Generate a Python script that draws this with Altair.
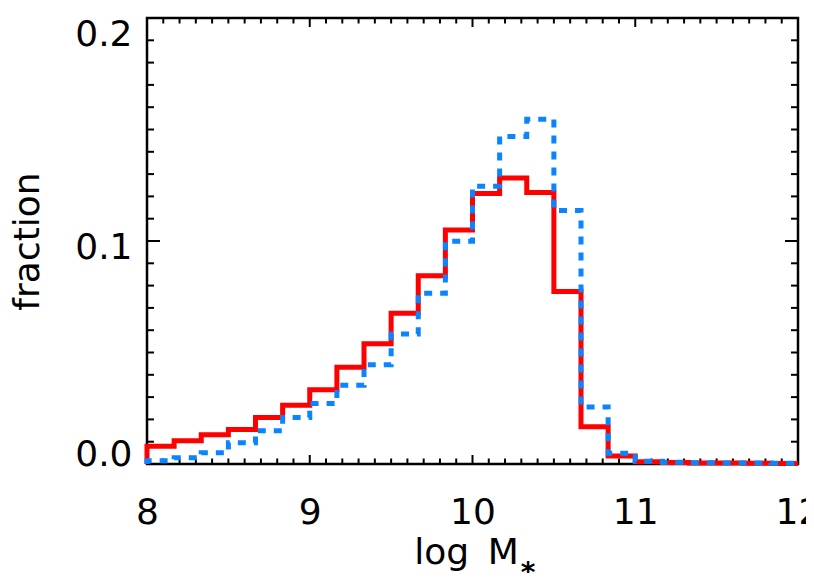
import altair as alt
import pandas as pd

# Histogram binning: 24 bins of width 1/6 from 8 to 12
BIN_START = 8.0
BIN_COUNT = 24
BIN_WIDTH = 1.0 / 6.0

# fraction per bin
red_vals = [0.0080, 0.0104, 0.0131, 0.0155, 0.0208, 0.0263, 0.0333, 0.0434,
            0.0539, 0.0676, 0.0844, 0.1049, 0.1213, 0.1283, 0.1217, 0.0774,
            0.0167, 0.0036, 0.0010, 0.0007, 0.0005, 0.0004, 0.0003, 0.0002]
blue_vals = [0.0015, 0.0028, 0.0050, 0.0095, 0.0149, 0.0208, 0.0271, 0.0353,
             0.0445, 0.0583, 0.0766, 0.0999, 0.1246, 0.1469, 0.1546, 0.1137,
             0.0256, 0.0048, 0.0012, 0.0008, 0.0006, 0.0005, 0.0004, 0.0003]

x_labels = [8, 9, 10, 11, 12]
y_labels = [0.0, 0.1, 0.2]
x_major = [8, 9, 10, 11, 12]
x_minor = [round(8 + 0.1 * i, 1) for i in range(41) if i % 10 != 0]
y_major = [0.0, 0.1, 0.2]
y_minor = [round(0.01 * i, 2) for i in range(21) if i % 10 != 0]

x_title = "log\u2009 M"
x_title_sub = ["*"]
y_title = "fraction"

edges = [BIN_START + i * BIN_WIDTH for i in range(BIN_COUNT + 1)]


def steps(vals, name):
    rows = [{"x": edges[0], "y": 0.0, "o": 0, "s": name}]
    for i, v in enumerate(vals):
        rows.append({"x": edges[i], "y": v, "o": 2 * i + 1, "s": name})
        rows.append({"x": edges[i + 1], "y": v, "o": 2 * i + 2, "s": name})
    return pd.DataFrame(rows)


red_df = steps(red_vals, "red")
blue_df = steps(blue_vals, "blue")

W, H = 651, 446
FONT = "DejaVu Sans"

xscale = alt.Scale(domain=[8, 12], nice=False, zero=False)
yscale = alt.Scale(domain=[0, 0.2], nice=False, zero=False)

xaxis = alt.Axis(values=x_labels, format="d", domain=False, ticks=False, grid=False,
                 labelFlush=False, labelFont=FONT, labelFontSize=36, labelColor="black",
                 labelPadding=31, title=x_title, titleFont=FONT, titleFontSize=36,
                 titleFontWeight="normal", titleColor="black", titleY=99, titleX=319,
                 titleAlign="center", titleBaseline="alphabetic")
yaxis = alt.Axis(values=y_labels, format=".1f", domain=False, ticks=False, grid=False,
                 labelFont=FONT, labelFontSize=36, labelColor="black", labelPadding=15,
                 labelBaseline="alphabetic",
                 labelOffset={"condition": [{"test": "datum.value < 0.05", "value": 1},
                                            {"test": "datum.value < 0.15", "value": 17}],
                              "value": 27},
                 title=y_title, titleFont=FONT, titleFontSize=36, titleFontWeight="normal",
                 titleColor="black", titleX=-109, titleY=H / 2, titleAngle=-90,
                 titleAlign="center", titleBaseline="alphabetic")

tick_style = dict(color="black", strokeWidth=2)


def xticks(vals, length, top):
    df = pd.DataFrame({"v": vals})
    if top:
        y, y2 = 0, length
    else:
        y, y2 = H, H - length
    return alt.Chart(df).mark_rule(**tick_style).encode(
        x=alt.X("v:Q", scale=xscale, axis=xaxis),
        y=alt.value(y), y2=alt.value(y2))


def yticks(vals, length, right):
    df = pd.DataFrame({"v": vals})
    if right:
        x, x2 = W, W - length
    else:
        x, x2 = 0, length
    return alt.Chart(df).mark_rule(**tick_style).encode(
        y=alt.Y("v:Q", scale=yscale, axis=yaxis),
        x=alt.value(x), x2=alt.value(x2))


tick_layers = [
    xticks(x_major, 9, False), xticks(x_minor, 5.5, False),
    xticks(x_major, 9, True), xticks(x_minor, 5.5, True),
    yticks(y_major, 13, False), yticks(y_minor, 7, False),
    yticks(y_major, 13, True), yticks(y_minor, 7, True),
]

red_line = alt.Chart(red_df).mark_line(
    color="#ff0000", strokeWidth=5, strokeJoin="miter", strokeCap="butt"
).encode(
    x=alt.X("x:Q", scale=xscale, axis=xaxis),
    y=alt.Y("y:Q", scale=yscale, axis=yaxis),
    order="o:Q")

blue_line = alt.Chart(blue_df).mark_line(
    color="#0a85ff", strokeWidth=5, strokeJoin="miter", strokeCap="butt", strokeDash=[8, 8]
).encode(
    x=alt.X("x:Q", scale=xscale, axis=xaxis),
    y=alt.Y("y:Q", scale=yscale, axis=yaxis),
    order="o:Q")

# subscript asterisk of the x title
sub_text = alt.Chart(pd.DataFrame({"t": x_title_sub})).mark_text(
    font=FONT, fontSize=28, fontWeight="bold", color="black", align="center", baseline="middle"
).encode(text="t:N", x=alt.value(381), y=alt.value(H + 110))

chart = alt.layer(*tick_layers, red_line, blue_line, sub_text).properties(
    width=W, height=H,
    autosize=alt.AutoSizeParams(type="none"),
    padding={"left": 139, "top": 10, "right": 8, "bottom": 109},
    background="white",
).configure_view(stroke="black", strokeWidth=2.5)

chart.save("out.html", embed_options={"renderer": "svg", "actions": False})
